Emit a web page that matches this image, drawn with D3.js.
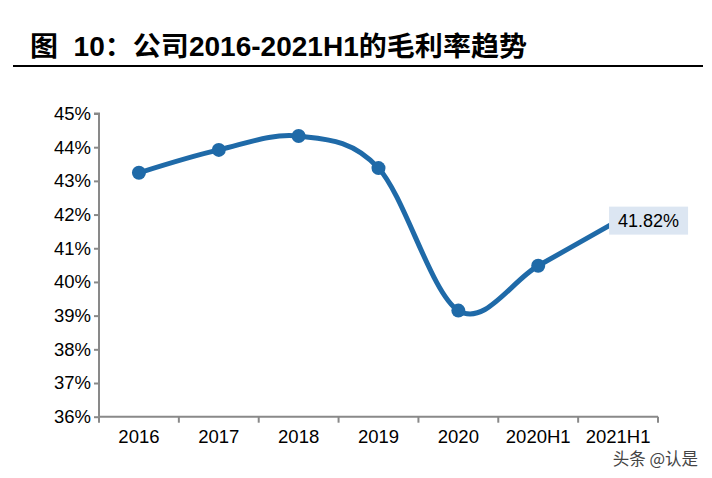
<!DOCTYPE html>
<html><head><meta charset="utf-8">
<script src="https://cdn.jsdelivr.net/npm/d3@7"></script>
<style>body{margin:0;background:#fff}svg{display:block}</style>
</head><body>
<svg id="c" width="712" height="478"></svg>
<script>
const categories = ["2016","2017","2018","2019","2020","2020H1","2021H1"];
const margin = [43.24, 43.92, 44.33, 43.38, 39.15, 40.48, 41.82];
const yTicks = [36,37,38,39,40,41,42,43,44,45];
const lastLabel = "41.82%";
const title = "图  10：公司2016-2021H1的毛利率趋势";
const watermark = "头条 @认是";

const svg = d3.select("#c");
const L = 99, R = 658, T = 113.5, B = 416.7;
const x = d3.scaleBand().domain(categories).range([L, R]);
const y = d3.scaleLinear().domain([36, 45]).range([B, T]);
const font = "'Liberation Sans', Arial, 'Noto Sans CJK SC', sans-serif";
const axisColor = "#898989";

// title
svg.append("text").attr("x", 30).attr("y", 56)
  .attr("font-family", font)
  .attr("font-weight", "bold").attr("font-size", 27).attr("fill", "#000")
  .attr("xml:space","preserve").style("white-space","pre")
  .attr("textLength", 497).attr("lengthAdjust", "spacingAndGlyphs")
  .text(title);
svg.append("line").attr("x1", 13).attr("x2", 703).attr("y1", 66).attr("y2", 66)
  .attr("stroke", "#000").attr("stroke-width", 2);

// y axis
const yAxis = d3.axisLeft(y).tickValues(yTicks).tickSize(5).tickPadding(5)
  .tickFormat(d => d + "%");
const gy = svg.append("g").attr("transform", `translate(${L},0)`).call(yAxis);
gy.select(".domain").attr("stroke", axisColor).attr("stroke-width", 2)
  .attr("d", `M-5,${T}H0V${B}`);
gy.selectAll(".tick line").attr("stroke", axisColor).attr("stroke-width", 2);
gy.selectAll(".tick text").attr("font-family", font).attr("font-size", 18.5).attr("fill", "#000")
  .attr("x", -8);

// x axis
const xAxis = d3.axisBottom(x).tickSize(0).tickPadding(13);
const gx = svg.append("g").attr("transform", `translate(0,${B})`).call(xAxis);
gx.select(".domain").attr("stroke", axisColor).attr("stroke-width", 2).attr("d", `M${L},0H${R}`);
gx.selectAll(".tick text").attr("font-family", font).attr("font-size", 18.5).attr("fill", "#000")
  .attr("dy", "0.71em");
const bounds = categories.map(c => x(c)).concat([R]);
gx.selectAll(".bnd").data(bounds).enter().append("line")
  .attr("x1", d => d).attr("x2", d => d).attr("y1", 0).attr("y2", 6)
  .attr("stroke", axisColor).attr("stroke-width", 2);

// line
const pts = categories.map((c, i) => [x(c) + x.bandwidth() / 2, y(margin[i])]);
const lineColor = "#1f6aa8";
svg.append("path").attr("d", d3.line().curve(d3.curveCardinal.tension(0))(pts))
  .attr("fill", "none").attr("stroke", lineColor).attr("stroke-width", 5)
  .attr("stroke-linecap", "round");
svg.selectAll(".pt").data(pts.slice(0, pts.length - 1)).enter().append("circle")
  .attr("cx", d => d[0]).attr("cy", d => d[1]).attr("r", 7).attr("fill", lineColor);

// last label
const lp = pts[pts.length - 1];
svg.append("rect").attr("x", lp[0] - 9).attr("y", lp[1] - 14).attr("width", 79).attr("height", 28)
  .attr("fill", "#dce6f2");
svg.append("text").attr("x", lp[0] + 30.5).attr("y", lp[1] + 6.5).attr("text-anchor", "middle")
  .attr("font-family", font).attr("font-size", 18).attr("fill", "#000").text(lastLabel);

// watermark
svg.append("text").attr("x", 698).attr("y", 465).attr("text-anchor", "end")
  .attr("font-family", "'Noto Sans CJK SC', sans-serif").attr("font-size", 16.5)
  .attr("fill", "#444").attr("stroke", "#fff").attr("stroke-width", 2)
  .attr("paint-order", "stroke").text(watermark);
</script>
</body></html>
